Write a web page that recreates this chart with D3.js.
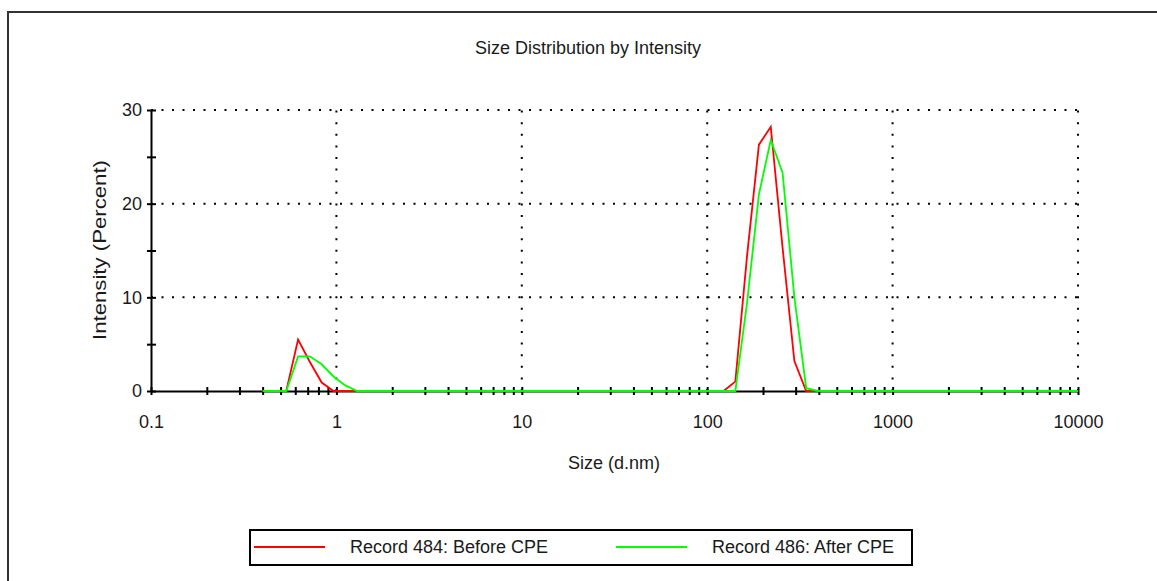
<!DOCTYPE html>
<html>
<head>
<meta charset="utf-8">
<script src="https://cdn.jsdelivr.net/npm/d3@7"></script>
<style>
  body { margin: 0; background: #fff; }
  text { font-family: "Liberation Sans", Arial, sans-serif; fill: #1a1a1a; }
</style>
</head>
<body>
<svg id="chart"></svg>
<script>
// size classes (d.nm)
const sizes = [
  0.4, 0.4632, 0.5365, 0.6213, 0.7195, 0.8332, 0.9649, 1.117, 1.294, 1.499,
  1.736, 2.010, 2.328, 2.696, 3.122, 3.615, 4.187, 4.849, 5.615, 6.503,
  7.531, 8.721, 10.10, 11.70, 13.54, 15.69, 18.17, 21.04, 24.36, 28.21,
  32.67, 37.84, 43.82, 50.75, 58.77, 68.06, 78.82, 91.28, 105.7, 122.4,
  141.8, 164.2, 190.1, 220.2, 255.0, 295.3, 342.0, 396.1, 458.7, 531.2,
  615.1, 712.4, 825.0, 955.4, 1106, 1281, 1484, 1718, 1990, 2305,
  2669, 3091, 3580, 4145, 4801, 5560, 6439, 7456, 8635, 10000
];

// Record 484: Before CPE
const before = [
  0, 0, 0, 5.5, 3.1, 0.9, 0, 0, 0, 0,
  0, 0, 0, 0, 0, 0, 0, 0, 0, 0,
  0, 0, 0, 0, 0, 0, 0, 0, 0, 0,
  0, 0, 0, 0, 0, 0, 0, 0, 0, 0,
  1.0, 14.5, 26.3, 28.2, 15.3, 3.2, 0, 0, 0, 0,
  0, 0, 0, 0, 0, 0, 0, 0, 0, 0,
  0, 0, 0, 0, 0, 0, 0, 0, 0, 0
];

// Record 486: After CPE
const after = [
  0, 0, 0, 3.7, 3.7, 2.85, 1.55, 0.6, 0, 0,
  0, 0, 0, 0, 0, 0, 0, 0, 0, 0,
  0, 0, 0, 0, 0, 0, 0, 0, 0, 0,
  0, 0, 0, 0, 0, 0, 0, 0, 0, 0,
  0, 9.5, 21, 26.8, 23.3, 10, 0.3, 0, 0, 0,
  0, 0, 0, 0, 0, 0, 0, 0, 0, 0,
  0, 0, 0, 0, 0, 0, 0, 0, 0, 0
];

const seriesNames = ["Record 484: Before CPE", "Record 486: After CPE"];
const seriesColors = ["#ff0000", "#00ff00"];
const xTickLabels = [0.1, 1, 10, 100, 1000, 10000];
const yTickLabels = [0, 10, 20, 30];

class SizeChart {

    constructor(_config) {
        this.config = {
            parentElement: _config.parentElement,
            containerWidth: 1157,
            containerHeight: 581,
            plot: { left: 151, right: 1078, top: 110, bottom: 391 }
        };
        this.initVis();
    }

    initVis() {
        let vis = this;
        let p = vis.config.plot;

        vis.svg = d3.select(vis.config.parentElement)
            .attr('width', vis.config.containerWidth)
            .attr('height', vis.config.containerHeight);

        // outer frame
        vis.svg.append('path')
            .attr('d', `M8,${vis.config.containerHeight} L8,12 L${vis.config.containerWidth},12`)
            .attr('fill', 'none')
            .attr('stroke', '#333')
            .attr('stroke-width', 2);

        vis.svg.append('text')
            .attr('x', 588)
            .attr('y', 54)
            .attr('text-anchor', 'middle')
            .attr('font-size', '18px')
            .text('Size Distribution by Intensity');

        vis.xScale = d3.scaleLog().domain([0.1, 10000]).range([p.left, p.right]);
        vis.yScale = d3.scaleLinear().domain([0, 30]).range([p.bottom, p.top]);

        // dotted grid
        vis.svg.append('g').selectAll('line')
            .data(yTickLabels.filter(d => d > 0))
            .join('line')
                .attr('x1', p.left).attr('x2', p.right)
                .attr('y1', d => vis.yScale(d)).attr('y2', d => vis.yScale(d))
                .attr('stroke', '#000')
                .attr('stroke-width', 2)
                .attr('stroke-dasharray', '2,8.5');
        vis.svg.append('g').selectAll('line')
            .data(xTickLabels.filter(d => d > 0.1))
            .join('line')
                .attr('x1', d => vis.xScale(d)).attr('x2', d => vis.xScale(d))
                .attr('y1', p.bottom).attr('y2', p.top)
                .attr('stroke', '#000')
                .attr('stroke-width', 2)
                .attr('stroke-dasharray', '2,9.6');

        // axes
        vis.xAxis = d3.axisBottom(vis.xScale)
            .tickValues(vis.xScale.ticks())
            .tickSize(4)
            .tickSizeOuter(0)
            .tickPadding(20)
            .tickFormat(d => xTickLabels.includes(+d.toPrecision(6)) ? d3.format('~g')(d) : '');
        vis.xAxisGroup = vis.svg.append('g')
            .attr('transform', `translate(0,${p.bottom})`)
            .call(vis.xAxis);
        vis.xAxisGroup.selectAll('.tick line').attr('y1', -4).attr('stroke-width', 2);

        vis.yAxis = d3.axisLeft(vis.yScale)
            .tickValues(d3.range(0, 31, 5))
            .tickSize(4)
            .tickSizeOuter(0)
            .tickPadding(5)
            .tickFormat(d => yTickLabels.includes(d) ? d : '');
        vis.yAxisGroup = vis.svg.append('g')
            .attr('transform', `translate(${p.left},0)`)
            .call(vis.yAxis);
        vis.yAxisGroup.selectAll('.tick line').attr('x1', 5).attr('stroke-width', 2);

        [vis.xAxisGroup, vis.yAxisGroup].forEach(g => {
            g.select('.domain').attr('stroke-width', 2).attr('stroke', '#000');
            g.selectAll('text')
                .attr('font-size', '18px')
                .attr('font-family', '"Liberation Sans", Arial, sans-serif')
                .attr('fill', '#1a1a1a');
        });

        // axis titles
        vis.svg.append('text')
            .attr('x', 614)
            .attr('y', 469)
            .attr('text-anchor', 'middle')
            .attr('font-size', '18px')
            .text('Size (d.nm)');
        vis.svg.append('text')
            .attr('transform', 'translate(106,250) rotate(-90)')
            .attr('text-anchor', 'middle')
            .attr('font-size', '19px')
            .attr('textLength', 180)
            .attr('lengthAdjust', 'spacingAndGlyphs')
            .text('Intensity (Percent)');

        vis.line = d3.line()
            .x(d => vis.xScale(d.size))
            .y(d => vis.yScale(d.value));

        vis.renderVis();
    }

    renderVis() {
        let vis = this;
        let series = [before, after].map((vals, i) => ({
            name: seriesNames[i],
            color: seriesColors[i],
            values: sizes.map((s, j) => ({ size: s, value: vals[j] }))
        }));

        vis.svg.append('g').selectAll('path')
            .data(series)
            .join('path')
                .attr('d', d => vis.line(d.values))
                .attr('fill', 'none')
                .attr('stroke', d => d.color)
                .attr('stroke-width', 1.8);

        // legend
        let legend = vis.svg.append('g');
        legend.append('rect')
            .attr('x', 250).attr('y', 530)
            .attr('width', 662).attr('height', 35)
            .attr('fill', '#fff')
            .attr('stroke', '#000')
            .attr('stroke-width', 2);
        let items = legend.selectAll('g.item')
            .data(series)
            .join('g')
                .attr('class', 'item')
                .attr('transform', (d, i) => `translate(${i === 0 ? 254 : 616},547)`);
        items.append('line')
            .attr('x1', 0).attr('x2', 71)
            .attr('stroke', d => d.color)
            .attr('stroke-width', 2);
        items.append('text')
            .attr('x', 96)
            .attr('y', 6)
            .attr('font-size', '18px')
            .text(d => d.name);
    }
}

new SizeChart({ parentElement: '#chart' });
</script>
</body>
</html>
